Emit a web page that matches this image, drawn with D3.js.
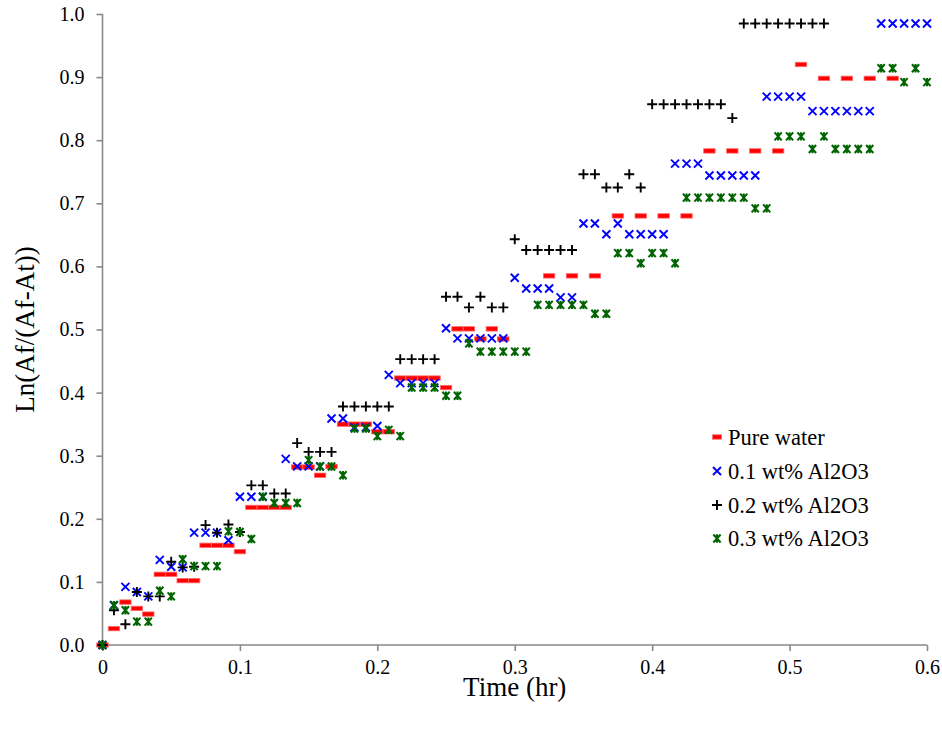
<!DOCTYPE html>
<html>
<head>
<meta charset="utf-8">
<script src="https://cdn.jsdelivr.net/npm/d3@7"></script>
<style>
  body { margin: 0; background: #fff; }
  svg { display: block; }
  text { font-family: "Liberation Serif", "Times New Roman", serif; fill: #000; }
</style>
</head>
<body>
<svg id="chart"></svg>
<script>
// [time (min), Ln(Af/(Af-At))]
const pureWater = [
  [0,0],[0.5,0.026],[1,0.068],[1.5,0.058],[2,0.049],[2.5,0.112],[3,0.112],[3.5,0.102],[4,0.102],
  [4.5,0.158],[5,0.158],[5.5,0.158],[6,0.148],[6.5,0.218],[7,0.218],[7.5,0.218],[8,0.218],
  [8.5,0.282],[9,0.282],[9.5,0.269],[10,0.283],[10.5,0.350],[11,0.350],[11.5,0.350],[12,0.338],
  [12.5,0.338],[13,0.423],[13.5,0.423],[14,0.423],[14.5,0.423],[15,0.408],[15.5,0.501],[16,0.501],
  [16.5,0.485],[17,0.501],[17.5,0.485],[19.5,0.585],[20.5,0.585],[21.5,0.585],
  [22.5,0.680],[23.5,0.680],[24.5,0.680],[25.5,0.680],[26.5,0.783],[27.5,0.783],[28.5,0.783],
  [29.5,0.783],[30.5,0.920],[31.5,0.898],[32.5,0.898],[33.5,0.898],[34.5,0.898]
]
const wt01 = [
  [0,0],[0.5,0.063],[1,0.092],[1.5,0.084],[2,0.077],[2.5,0.135],[3,0.124],[3.5,0.123],[4,0.178],
  [4.5,0.178],[5,0.178],[5.5,0.166],[6,0.235],[6.5,0.235],[7,0.235],[8,0.295],[8.5,0.283],
  [9,0.283],[9.5,0.283],[10,0.359],[10.5,0.359],[11,0.345],[11.5,0.345],[12,0.347],[12.5,0.428],
  [13,0.415],[13.5,0.415],[14,0.415],[14.5,0.415],[15,0.502],[15.5,0.486],[16,0.486],[16.5,0.486],
  [17,0.486],[17.5,0.486],[18,0.582],[18.5,0.565],[19,0.565],[19.5,0.565],[20,0.551],[20.5,0.551],
  [21,0.668],[21.5,0.668],[22,0.651],[22.5,0.668],[23,0.651],[23.5,0.651],[24,0.651],[24.5,0.651],
  [25,0.763],[25.5,0.763],[26,0.763],[26.5,0.744],[27,0.744],[27.5,0.744],[28,0.744],[28.5,0.744],
  [29,0.869],[29.5,0.869],[30,0.869],[30.5,0.869],[31,0.846],[31.5,0.846],[32,0.846],[32.5,0.846],
  [33,0.846],[33.5,0.846],[34,0.985],[34.5,0.985],[35,0.985],[35.5,0.985],[36,0.985]
]
const wt02 = [
  [0,0],[0.5,0.055],[1,0.033],[1.5,0.084],[2,0.077],[2.5,0.077],[3,0.132],[3.5,0.123],[4,0.124],
  [4.5,0.190],[5,0.178],[5.5,0.191],[6,0.179],[6.5,0.253],[7,0.253],[7.5,0.240],[8,0.240],
  [8.5,0.320],[9,0.306],[9.5,0.306],[10,0.306],[10.5,0.378],[11,0.378],[11.5,0.378],[12,0.378],
  [12.5,0.378],[13,0.453],[13.5,0.453],[14,0.453],[14.5,0.453],[15,0.552],[15.5,0.552],[16,0.535],
  [16.5,0.552],[17,0.535],[17.5,0.535],[18,0.643],[18.5,0.626],[19,0.626],[19.5,0.626],[20,0.626],
  [20.5,0.626],[21,0.746],[21.5,0.746],[22,0.725],[22.5,0.725],[23,0.746],[23.5,0.725],
  [24,0.857],[24.5,0.857],[25,0.857],[25.5,0.857],[26,0.857],[26.5,0.857],[27,0.857],[27.5,0.835],
  [28,0.985],[28.5,0.985],[29,0.985],[29.5,0.985],[30,0.985],[30.5,0.985],[31,0.985],[31.5,0.985]
]
const wt03 = [
  [0,0],[0.5,0.063],[1,0.055],[1.5,0.037],[2,0.037],[2.5,0.086],[3,0.077],[3.5,0.136],[4,0.125],
  [4.5,0.125],[5,0.125],[5.5,0.180],[6,0.179],[6.5,0.168],[7,0.235],[7.5,0.225],[8,0.225],
  [8.5,0.225],[9,0.293],[9.5,0.283],[10,0.283],[10.5,0.269],[11,0.343],[11.5,0.343],[12,0.331],
  [12.5,0.341],[13,0.331],[13.5,0.408],[14,0.408],[14.5,0.408],[15,0.395],[15.5,0.395],[16,0.478],
  [16.5,0.465],[17,0.465],[17.5,0.465],[18,0.465],[18.5,0.465],[19,0.539],[19.5,0.539],[20,0.539],
  [20.5,0.539],[21,0.539],[21.5,0.525],[22,0.525],[22.5,0.621],[23,0.621],[23.5,0.605],[24,0.621],
  [24.5,0.621],[25,0.605],[25.5,0.709],[26,0.709],[26.5,0.709],[27,0.709],[27.5,0.709],[28,0.709],
  [28.5,0.692],[29,0.692],[29.5,0.806],[30,0.806],[30.5,0.806],[31,0.786],[31.5,0.806],[32,0.786],
  [32.5,0.786],[33,0.786],[33.5,0.786],[34,0.914],[34.5,0.914],[35,0.892],[35.5,0.914],[36,0.892]
]

const seriesNames = ['Pure water', '0.1 wt% Al2O3', '0.2 wt% Al2O3', '0.3 wt% Al2O3']
const xTicks = [0, 0.1, 0.2, 0.3, 0.4, 0.5, 0.6]
const yTicks = [0, 0.1, 0.2, 0.3, 0.4, 0.5, 0.6, 0.7, 0.8, 0.9, 1.0]

const width = 942
const height = 733
const serif = '"Liberation Serif", "Times New Roman", serif'
const svg = d3.select('#chart').attr('width', width).attr('height', height)

const x = d3.scaleLinear().domain([0, 0.6]).range([102.5, 927])
const y = d3.scaleLinear().domain([0, 1]).range([645, 14])

const axisColor = '#898989'

// axes
const gx = svg.append('g').attr('transform', `translate(0,${y(0)})`)
  .call(d3.axisBottom(x).tickValues(xTicks).tickSize(6).tickPadding(9)
    .tickFormat(d => d === 0 ? '0' : d3.format('.1f')(d)))
const gy = svg.append('g').attr('transform', `translate(${x(0)},0)`)
  .call(d3.axisLeft(y).tickValues(yTicks).tickSize(6).tickPadding(12)
    .tickFormat(d3.format('.1f')))
;[gx, gy].forEach(g => {
  g.attr('font-family', serif).attr('font-size', 20)
  g.select('.domain').attr('stroke', axisColor).attr('stroke-width', 1.6)
  g.selectAll('.tick line').attr('stroke', axisColor).attr('stroke-width', 1.6)
  g.selectAll('.tick text').style('font-family', serif).style('font-size', '20px').attr('fill', '#000')
})
gx.select('.domain').attr('d', `M${x(0)},0H${x(0.6)}`)
gy.select('.domain').attr('d', `M0,${y(0)}V${y(1)}`)

// axis titles
svg.append('text').attr('x', (x(0) + x(0.6)) / 2).attr('y', 696)
  .attr('text-anchor', 'middle').style('font-size', '27px').text('Time (hr)')
svg.append('text').attr('transform', `translate(34,${(y(0) + y(1)) / 2}) rotate(-90)`)
  .attr('text-anchor', 'middle').style('font-size', '27px').text('Ln(Af/(Af-At))')

// marker shapes
const markers = [
  g => g.append('rect').attr('x', -5.7).attr('y', -2.2).attr('width', 11.4).attr('height', 4.4)
        .attr('fill', '#ff0000').attr('stroke', '#ff6a6a').attr('stroke-width', 0.8),
  g => g.append('path').attr('d', 'M-4,-4L4,4M-4,4L4,-4')
        .attr('stroke', '#0000ff').attr('stroke-width', 1.9).attr('fill', 'none'),
  g => g.append('path').attr('d', 'M-5,0H5M0,-5V5')
        .attr('stroke', '#000').attr('stroke-width', 1.9).attr('fill', 'none'),
  g => g.append('path').attr('d', 'M-3.6,-4L3.6,4M-3.6,4L3.6,-4M0,-4.2V4.2')
        .attr('stroke', '#006400').attr('stroke-width', 2.1).attr('fill', 'none')
]

const allSeries = [pureWater, wt01, wt02, wt03]
allSeries.forEach((data, si) => {
  const g = svg.append('g')
  data.forEach(d => {
    const m = g.append('g').attr('transform', `translate(${x(d[0] / 60)},${y(d[1])})`)
    markers[si](m)
  })
})

// legend
const legendY = [437, 471, 505, 538.5]
seriesNames.forEach((name, i) => {
  const m = svg.append('g').attr('transform', `translate(717,${legendY[i]})`)
  markers[i](m)
  if (i === 0) m.select('rect').attr('x', -4.5).attr('width', 9)
  svg.append('text').attr('x', 728).attr('y', legendY[i]).attr('dy', '0.35em')
    .style('font-size', '22.5px').text(name)
})
</script>
</body>
</html>
